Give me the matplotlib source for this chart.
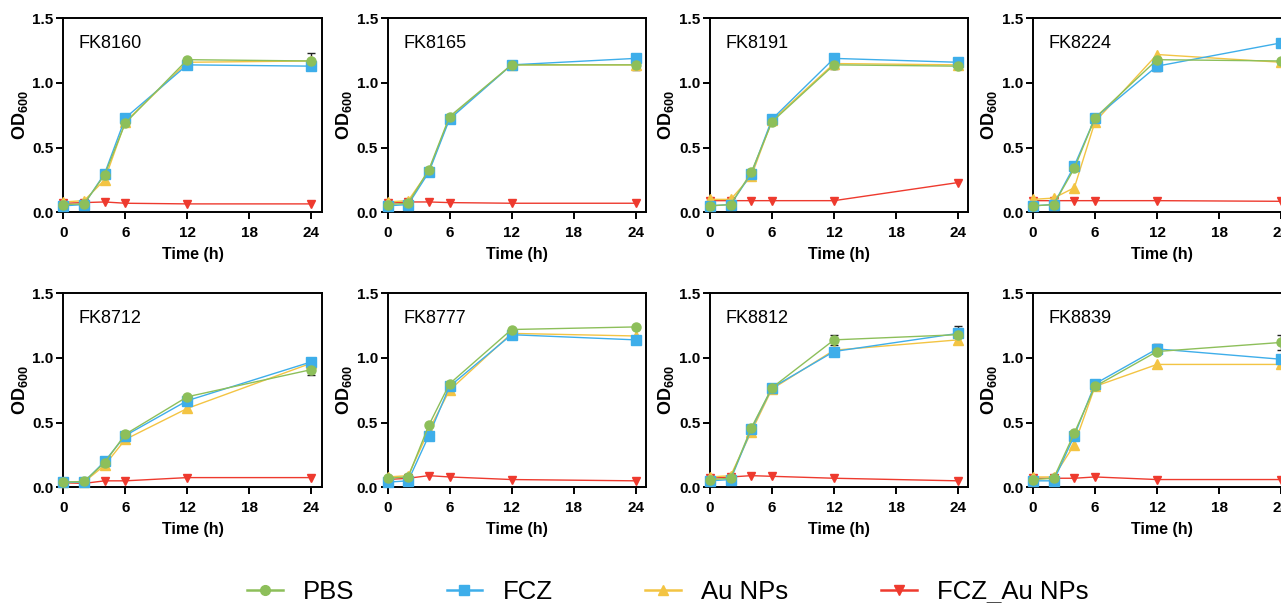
import numpy as np
import matplotlib
matplotlib.use('Agg')
import matplotlib.pyplot as plt

plt.rcParams['font.family'] = ['Liberation Sans', 'DejaVu Sans']
plt.rcParams['mathtext.fontset'] = 'custom'
plt.rcParams['mathtext.rm'] = 'Liberation Sans:bold'
plt.rcParams['mathtext.bf'] = 'Liberation Sans:bold'

# Data
time_h = [0, 2, 4, 6, 12, 24]
strains = ['FK8160', 'FK8165', 'FK8191', 'FK8224', 'FK8712', 'FK8777', 'FK8812', 'FK8839']
series = ['PBS', 'FCZ', 'Au NPs', 'FCZ_Au NPs']

pbs = [
    [0.06, 0.065, 0.29, 0.69, 1.18, 1.17],
    [0.06, 0.07, 0.33, 0.74, 1.14, 1.14],
    [0.05, 0.06, 0.31, 0.70, 1.14, 1.13],
    [0.05, 0.06, 0.34, 0.73, 1.18, 1.17],
    [0.04, 0.045, 0.19, 0.41, 0.70, 0.91],
    [0.07, 0.08, 0.48, 0.80, 1.22, 1.24],
    [0.06, 0.07, 0.46, 0.77, 1.14, 1.18],
    [0.06, 0.07, 0.42, 0.78, 1.05, 1.12],
]
fcz = [
    [0.05, 0.06, 0.30, 0.73, 1.14, 1.13],
    [0.05, 0.06, 0.31, 0.72, 1.14, 1.19],
    [0.05, 0.06, 0.30, 0.72, 1.19, 1.16],
    [0.05, 0.06, 0.36, 0.73, 1.13, 1.31],
    [0.04, 0.04, 0.20, 0.40, 0.67, 0.97],
    [0.04, 0.05, 0.40, 0.78, 1.18, 1.14],
    [0.05, 0.06, 0.45, 0.77, 1.05, 1.19],
    [0.05, 0.05, 0.40, 0.80, 1.07, 0.99],
]
au_nps = [
    [0.08, 0.09, 0.25, 0.70, 1.16, 1.17],
    [0.08, 0.09, 0.32, 0.73, 1.14, 1.14],
    [0.10, 0.10, 0.28, 0.71, 1.15, 1.14],
    [0.10, 0.11, 0.19, 0.70, 1.22, 1.16],
    [0.04, 0.04, 0.17, 0.37, 0.61, 0.96],
    [0.08, 0.09, 0.44, 0.75, 1.19, 1.17],
    [0.08, 0.09, 0.43, 0.76, 1.06, 1.14],
    [0.08, 0.08, 0.33, 0.78, 0.95, 0.95],
]
fcz_au = [
    [0.07, 0.075, 0.08, 0.07, 0.065, 0.065],
    [0.07, 0.08, 0.08, 0.075, 0.07, 0.07],
    [0.09, 0.09, 0.09, 0.09, 0.09, 0.23],
    [0.09, 0.09, 0.09, 0.09, 0.09, 0.085],
    [0.035, 0.03, 0.05, 0.05, 0.075, 0.075],
    [0.06, 0.07, 0.09, 0.08, 0.06, 0.05],
    [0.07, 0.08, 0.09, 0.085, 0.07, 0.05],
    [0.07, 0.07, 0.07, 0.08, 0.06, 0.06],
]
# error bars: (strain index, series index, time index, sd)
errors = [
    (0, 0, 5, 0.06), (0, 1, 5, 0.03),
    (1, 0, 5, 0.04), (1, 1, 5, 0.02),
    (2, 0, 4, 0.03), (2, 1, 5, 0.03),
    (3, 1, 4, 0.04),
    (4, 0, 5, 0.04), (4, 1, 5, 0.02),
    (6, 0, 4, 0.04), (6, 0, 5, 0.07),
    (7, 1, 4, 0.04), (7, 0, 5, 0.06),
]

colors = ['#8dbf5a', '#3eaeea', '#f3c443', '#ee3a2e']
markers = ['o', 's', '^', 'v']
msizes = [6.5, 6.5, 6.5, 6]
all_data = [pbs, fcz, au_nps, fcz_au]

fig = plt.figure(figsize=(12.81, 6.03), dpi=100)
W, H = 1281.0, 603.0
lefts = [63.3, 387.5, 710.0, 1033.0]
bottoms = [212.3, 487.3]
aw, ah = 258.4, 194.0

for i, strain in enumerate(strains):
    row, col = divmod(i, 4)
    ax = fig.add_axes([lefts[col] / W, 1 - bottoms[row] / H, aw / W, ah / H])
    # draw red first, green last (on top)
    for s in [3, 2, 1, 0]:
        y = np.array(all_data[s][i])
        err = np.zeros(len(time_h))
        for (si, ss, ti, e) in errors:
            if si == i and ss == s:
                err[ti] = e
        if err.any():
            ax.errorbar(time_h, y, yerr=err, fmt='none', ecolor='#222222',
                        elinewidth=1.0, capsize=3, capthick=1.0, zorder=2 + s * 0.1)
        ax.plot(time_h, y, color=colors[s], marker=markers[s], markersize=msizes[s],
                linewidth=1.0, zorder=5 - s, clip_on=False)
    ax.set_xlim(0, 25)
    ax.set_ylim(0, 1.5)
    ax.set_xticks([0, 6, 12, 18, 24])
    ax.set_yticks([0, 0.5, 1.0, 1.5])
    ax.set_yticklabels(['0.0', '0.5', '1.0', '1.5'])
    for sp in ax.spines.values():
        sp.set_linewidth(1.4)
    ax.tick_params(direction='out', length=5, width=1.4, labelsize=11)
    ax.tick_params(axis='x', pad=5)
    ax.tick_params(axis='y', pad=2)
    for lbl in ax.get_xticklabels() + ax.get_yticklabels():
        lbl.set_fontweight('bold')
    ax.set_xlabel('Time (h)', fontsize=11.5, fontweight='bold', labelpad=5)
    ax.set_ylabel(r'OD$_{600}$', fontsize=13, fontweight='bold', labelpad=2)
    ax.text(0.06, 0.87, strain, transform=ax.transAxes, fontsize=13, va='center', ha='left')

handles = [plt.Line2D([], [], color=colors[s], marker=markers[s], markersize=7, linewidth=1.8)
           for s in range(4)]
fig.legend(handles, series, loc='center', bbox_to_anchor=(0.521, 1 - 592 / H), ncol=4,
           frameon=False, fontsize=18.5, handlelength=1.4, columnspacing=3.6, handletextpad=0.78)

fig.savefig('out.png', dpi=100)
